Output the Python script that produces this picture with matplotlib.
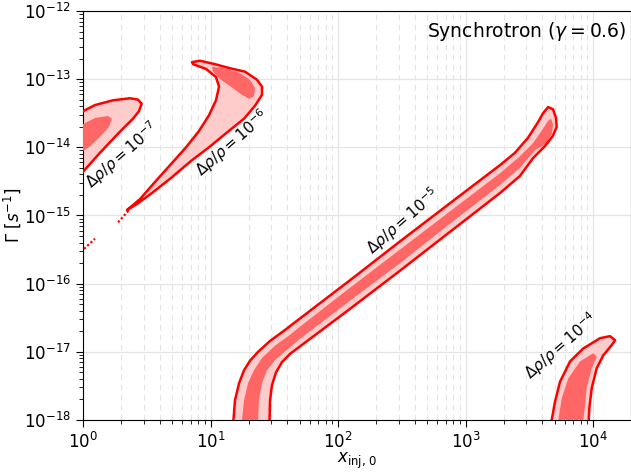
import numpy as np
import matplotlib
matplotlib.use("Agg")
import matplotlib.pyplot as plt

# Contour outlines of the allowed regions, as log10(x_inj,0) / log10(Gamma [s^-1])
# Delta rho / rho = 1e-7
a7_logx = [-0.024, 0.0, 0.094, 0.235, 0.369, 0.431, 0.460, 0.439, 0.392, 0.290, 0.133, 0.0, -0.024]
a7_logG = [-13.48, -13.47, -13.38, -13.31, -13.28, -13.30, -13.36, -13.47, -13.58, -13.77, -14.08, -14.36, -14.41]
a7_in_logx = [-0.024, 0.0, 0.094, 0.196, 0.227, 0.204, 0.125, 0.047, 0.0, -0.024]
a7_in_logG = [-13.66, -13.66, -13.57, -13.54, -13.58, -13.70, -13.86, -14.00, -14.05, -14.07]

# Delta rho / rho = 1e-6
a6_logx = [0.855, 0.918, 1.035, 1.153, 1.271, 1.365, 1.404, 1.404, 1.349, 1.263, 1.137, 0.988,
           0.847, 0.690, 0.541, 0.424, 0.345, 0.447, 0.573, 0.698, 0.808, 0.910, 0.988, 1.043,
           1.067, 1.043, 0.965, 0.863]
a6_logG = [-12.75, -12.73, -12.78, -12.84, -12.89, -13.01, -13.11, -13.23, -13.39, -13.58, -13.77, -14.00,
           -14.20, -14.45, -14.67, -14.83, -14.92, -14.76, -14.49, -14.23, -14.00, -13.76, -13.53, -13.31,
           -13.11, -12.97, -12.85, -12.78]
a6_in_logx = [1.012, 1.114, 1.231, 1.310, 1.349, 1.341, 1.302, 1.239, 1.153, 1.075, 1.020]
a6_in_logG = [-12.82, -12.84, -12.91, -13.01, -13.13, -13.25, -13.29, -13.22, -13.10, -13.00, -12.89]

# Delta rho / rho = 1e-5
a5_logx = [1.176, 1.180, 1.192, 1.224, 1.263, 1.310, 1.373, 1.467, 1.584, 1.702, 2.094, 2.486, 2.878,
           3.271, 3.388, 3.490, 3.569, 3.608, 3.647, 3.686, 3.710, 3.715, 3.686, 3.624, 3.529, 3.427,
           3.271, 2.878, 2.486, 2.094, 1.702, 1.624, 1.561, 1.514, 1.482, 1.467, 1.463, 1.463]
a5_logG = [-18.15, -18.00, -17.71, -17.46, -17.27, -17.13, -17.00, -16.84, -16.68, -16.51, -15.95, -15.38, -14.82,
           -14.26, -14.08, -13.86, -13.63, -13.50, -13.41, -13.44, -13.57, -13.70, -13.83, -13.98, -14.16, -14.42,
           -14.67, -15.24, -15.81, -16.37, -16.92, -17.03, -17.15, -17.30, -17.49, -17.71, -18.00, -18.15]
a5_in_logx = [1.247, 1.247, 1.263, 1.294, 1.341, 1.404, 1.506, 1.624, 1.702, 2.094, 2.486, 2.878, 3.271,
              3.427, 3.529, 3.600, 3.647, 3.671, 3.686, 3.678, 3.631, 3.545, 3.427, 3.271, 2.878, 2.486,
              2.094, 1.702, 1.600, 1.506, 1.443, 1.404, 1.380, 1.373, 1.373]
a5_in_logG = [-18.15, -18.00, -17.71, -17.46, -17.27, -17.09, -16.91, -16.75, -16.63, -16.06, -15.50, -14.94, -14.38,
              -14.13, -13.94, -13.75, -13.61, -13.58, -13.66, -13.80, -13.95, -14.04, -14.30, -14.55, -15.12, -15.70,
              -16.25, -16.81, -16.97, -17.12, -17.27, -17.46, -17.71, -18.00, -18.15]

# Delta rho / rho = 1e-4
a4_logx = [3.671, 3.676, 3.702, 3.741, 3.820, 3.924, 4.055, 4.133, 4.173, 4.147, 4.081, 4.029, 3.990,
           3.971, 3.966, 3.966]
a4_logG = [-18.15, -18.00, -17.73, -17.44, -17.14, -16.95, -16.80, -16.77, -16.83, -16.90, -17.05, -17.24, -17.53,
           -17.83, -18.00, -18.15]
a4_in_logx = [3.728, 3.728, 3.755, 3.806, 3.898, 4.002, 4.029, 3.990, 3.951, 3.937, 3.924, 3.924]
a4_in_logG = [-18.15, -18.00, -17.68, -17.39, -17.14, -17.02, -17.07, -17.24, -17.53, -17.78, -18.00, -18.15]

# thin unresolved slivers of the 1e-7 / 1e-6 contours
sliver_logx = [[0.008, 0.094], [0.275, 0.361]]
sliver_logG = [[-15.49, -15.34], [-15.10, -14.92]]

# contour labels: text, log10 x, log10 Gamma
label_texts = [r"$\Delta\rho/\rho = 10^{-7}$", r"$\Delta\rho/\rho = 10^{-6}$",
               r"$\Delta\rho/\rho = 10^{-5}$", r"$\Delta\rho/\rho = 10^{-4}$"]
label_logx = [0.306, 1.166, 2.506, 3.747]
label_logG = [-14.11, -13.94, -15.08, -16.92]

title_text = r"Synchrotron ($\gamma = 0.6$)"

LIGHT = "#ffcccc"
DARK = "#ff6666"
EDGE = "#ff0000"

fig = plt.figure(figsize=(6.31, 4.72), dpi=100)
ax = fig.add_axes([83 / 631, 52 / 472, 548.4 / 631, 409 / 472])
ax.set_xscale("log")
ax.set_yscale("log")
ax.set_xlim(1, 2e4)
ax.set_ylim(1e-18, 1e-12)
ax.set_axisbelow(True)

ax.grid(True, which="major", color="#e4e4e4", lw=0.9)
ax.grid(True, which="minor", axis="x", color="#e4e4e4", lw=0.8, ls=(0, (5, 4)))

regions = [
    (a7_logx, a7_logG, a7_in_logx, a7_in_logG),
    (a6_logx, a6_logG, a6_in_logx, a6_in_logG),
    (a5_logx, a5_logG, a5_in_logx, a5_in_logG),
    (a4_logx, a4_logG, a4_in_logx, a4_in_logG),
]
for lx, lg, ilx, ilg in regions:
    x = 10 ** np.asarray(lx)
    g = 10 ** np.asarray(lg)
    ax.fill(x, g, facecolor=LIGHT, edgecolor="none", zorder=2)
    ax.fill(10 ** np.asarray(ilx), 10 ** np.asarray(ilg), facecolor=DARK, edgecolor="none", zorder=3)
    ax.fill(x, g, facecolor="none", edgecolor=EDGE, lw=1.8, joinstyle="round", zorder=4)

for lx, lg in zip(sliver_logx, sliver_logG):
    ax.plot(10 ** np.asarray(lx), 10 ** np.asarray(lg), color=EDGE, lw=1.6, ls=(0, (1, 1)), zorder=4)

for t, lx, lg in zip(label_texts, label_logx, label_logG):
    ax.text(10 ** lx, 10 ** lg, t, rotation=41, ha="center", va="center",
            rotation_mode="anchor", fontsize=11, zorder=5)

ax.text(0.991, 0.951, title_text, transform=ax.transAxes, ha="right", va="center", fontsize=13.5)

ax.tick_params(axis="both", which="major", labelsize=12, length=5)
ax.tick_params(axis="both", which="minor", length=3)
ax.set_xlabel(r"$x_{\rm inj,\,0}$", fontsize=12, labelpad=-1)
ax.set_ylabel(r"$\Gamma\ [s^{-1}]$", fontsize=12, labelpad=1)

fig.savefig("out.png", dpi=100)
